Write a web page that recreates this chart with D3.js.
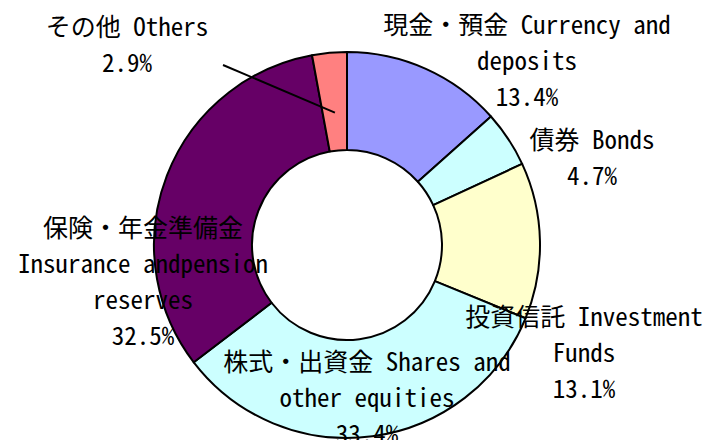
<!DOCTYPE html>
<html>
<head>
<meta charset="utf-8">
<script src="https://cdn.jsdelivr.net/npm/d3@7"></script>
<style>
  body { margin: 0; background: #fff; }
  .lbl { font-family: "Noto Sans Mono CJK JP", "Noto Sans CJK JP", sans-serif; font-size: 25px; fill: #000; }
</style>
</head>
<body>
<div id="chart"></div>
<script>
// data
var categories = ["Currency and deposits", "Bonds", "Investment Funds", "Shares and other equities", "Insurance and pension reserves", "Others"];
var values = [13.4, 4.7, 13.1, 33.4, 32.5, 2.9];
var labelText = [
  ["現金・預金  Currency and", "deposits"],
  ["債券 Bonds"],
  ["投資信託 Investment", "Funds"],
  ["株式・出資金 Shares and", "other equities"],
  ["保険・年金準備金", "Insurance andpension", "reserves"],
  ["その他 Others"]
];

// styles / layout
var colors = ["#9999ff", "#ccffff", "#ffffcc", "#ccffff", "#660066", "#ff8080"];
var labelPos = [[527, 25], [592, 140], [584, 317], [367, 362], [143, 228], [127, 27]];
var lineGap = 36;

var svgWidth = 713;
var svgHeight = 440;
var cx = 347, cy = 245;
var outerR = 193, innerR = 95;

var svg = d3.select("#chart")
  .append("svg")
  .attr("width", svgWidth)
  .attr("height", svgHeight);

var pie = d3.pie().sort(null).value(d => d);
var arc = d3.arc().innerRadius(innerR).outerRadius(outerR);

var slices = pie(values);

var ring = svg.append("g")
  .attr("transform", `translate(${cx}, ${cy})`);

ring.selectAll("path")
  .data(slices)
  .enter()
  .append("path")
  .attr("d", arc)
  .attr("fill", (d, i) => colors[i])
  .attr("stroke", "#000")
  .attr("stroke-width", 2)
  .attr("stroke-linejoin", "round");

// leader line for the small "Others" slice
var others = slices[5];
var leaderArc = d3.arc().innerRadius(133).outerRadius(133);
var endPt = leaderArc.centroid(others);
svg.append("line")
  .attr("x1", labelPos[5][0] + 96)
  .attr("y1", labelPos[5][1] + 38)
  .attr("x2", cx + endPt[0])
  .attr("y2", cy + endPt[1])
  .attr("stroke", "#000")
  .attr("stroke-width", 2);

// labels
var fmt = d3.format(".1f");
slices.forEach(function(s, i) {
  var lines = labelText[i].concat([fmt(values[i]) + "%"]);
  var t = svg.append("text")
    .attr("class", "lbl")
    .attr("text-anchor", "middle");
  lines.forEach(function(line, j) {
    t.append("tspan")
      .attr("x", labelPos[i][0])
      .attr("y", labelPos[i][1] + j * lineGap)
      .attr("dy", "0.36em")
      .text(line);
  });
});
</script>
</body>
</html>
